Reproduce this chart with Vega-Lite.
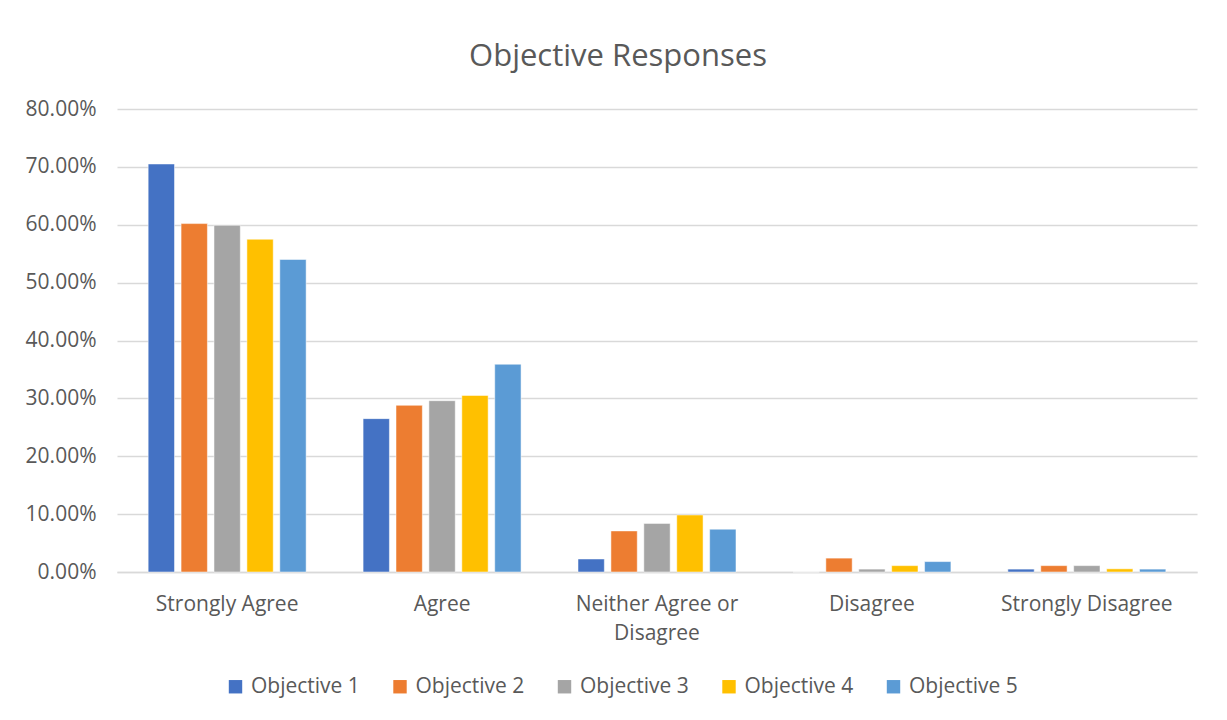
{
  "$schema": "https://vega.github.io/schema/vega-lite/v6.json",
  "width": 1080,
  "height": 463,
  "autosize": {"type": "none"},
  "padding": {"left": 117, "top": 109, "right": 30, "bottom": 148},
  "background": "white",
  "title": {
    "text": "Objective Responses",
    "fontSize": 31,
    "font": "Open Sans",
    "fontWeight": "normal",
    "color": "#595959",
    "anchor": "middle",
    "offset": 25,
    "dx": -39
  },
  "data": {
    "values": [
      {"response": "Strongly Agree", "objective": "Objective 1", "pct": 0.705},
      {"response": "Strongly Agree", "objective": "Objective 2", "pct": 0.602},
      {"response": "Strongly Agree", "objective": "Objective 3", "pct": 0.599},
      {"response": "Strongly Agree", "objective": "Objective 4", "pct": 0.575},
      {"response": "Strongly Agree", "objective": "Objective 5", "pct": 0.54},
      {"response": "Agree", "objective": "Objective 1", "pct": 0.265},
      {"response": "Agree", "objective": "Objective 2", "pct": 0.288},
      {"response": "Agree", "objective": "Objective 3", "pct": 0.296},
      {"response": "Agree", "objective": "Objective 4", "pct": 0.305},
      {"response": "Agree", "objective": "Objective 5", "pct": 0.359},
      {"response": "Neither Agree or Disagree", "objective": "Objective 1", "pct": 0.0225},
      {"response": "Neither Agree or Disagree", "objective": "Objective 2", "pct": 0.071},
      {"response": "Neither Agree or Disagree", "objective": "Objective 3", "pct": 0.084},
      {"response": "Neither Agree or Disagree", "objective": "Objective 4", "pct": 0.0985},
      {"response": "Neither Agree or Disagree", "objective": "Objective 5", "pct": 0.074},
      {"response": "Disagree", "objective": "Objective 1", "pct": 0},
      {"response": "Disagree", "objective": "Objective 2", "pct": 0.024},
      {"response": "Disagree", "objective": "Objective 3", "pct": 0.005},
      {"response": "Disagree", "objective": "Objective 4", "pct": 0.011},
      {"response": "Disagree", "objective": "Objective 5", "pct": 0.018},
      {"response": "Strongly Disagree", "objective": "Objective 1", "pct": 0.005},
      {"response": "Strongly Disagree", "objective": "Objective 2", "pct": 0.011},
      {"response": "Strongly Disagree", "objective": "Objective 3", "pct": 0.011},
      {"response": "Strongly Disagree", "objective": "Objective 4", "pct": 0.0055},
      {"response": "Strongly Disagree", "objective": "Objective 5", "pct": 0.005}
    ]
  },
  "mark": {"type": "bar", "stroke": "white", "strokeWidth": 0.5},
  "encoding": {
    "x": {
      "field": "response",
      "type": "nominal",
      "sort": ["Strongly Agree", "Agree", "Neither Agree or Disagree", "Disagree", "Strongly Disagree"],
      "scale": {"paddingInner": 0.265, "paddingOuter": 0.145},
      "axis": {
        "title": null,
        "labelAngle": 0,
        "labelFont": "Open Sans",
        "labelFontSize": 21,
        "labelColor": "#595959",
        "labelPadding": 21,
        "labelLineHeight": 29,
        "labelExpr": "datum.value == 'Neither Agree or Disagree' ? ['Neither Agree or', 'Disagree'] : datum.value",
        "ticks": false,
        "domainColor": "#D9D9D9",
        "domainWidth": 1.5,
        "grid": false
      }
    },
    "xOffset": {
      "field": "objective",
      "type": "nominal",
      "scale": {"paddingInner": 0.2}
    },
    "y": {
      "field": "pct",
      "type": "quantitative",
      "scale": {"domain": [0, 0.8], "nice": false},
      "axis": {
        "title": null,
        "format": ".2%",
        "values": [0, 0.1, 0.2, 0.3, 0.4, 0.5, 0.6, 0.7, 0.8],
        "labelFont": "Open Sans",
        "labelFontSize": 21,
        "labelColor": "#595959",
        "labelPadding": 21,
        "ticks": false,
        "domain": false,
        "gridColor": "#D9D9D9",
        "gridWidth": 1.5
      }
    },
    "color": {
      "field": "objective",
      "type": "nominal",
      "scale": {
        "domain": ["Objective 1", "Objective 2", "Objective 3", "Objective 4", "Objective 5"],
        "range": ["#4472C4", "#ED7D31", "#A5A5A5", "#FFC000", "#5B9BD5"]
      },
      "legend": {
        "title": null,
        "orient": "none",
        "legendX": 108,
        "legendY": 567,
        "direction": "horizontal",
        "symbolType": "square",
        "symbolSize": 180,
        "symbolStrokeWidth": 0,
        "labelFont": "Open Sans",
        "labelFontSize": 21,
        "labelColor": "#595959",
        "labelOffset": 5,
        "columnPadding": 29.5
      }
    }
  },
  "config": {
    "view": {"stroke": null}
  }
}
